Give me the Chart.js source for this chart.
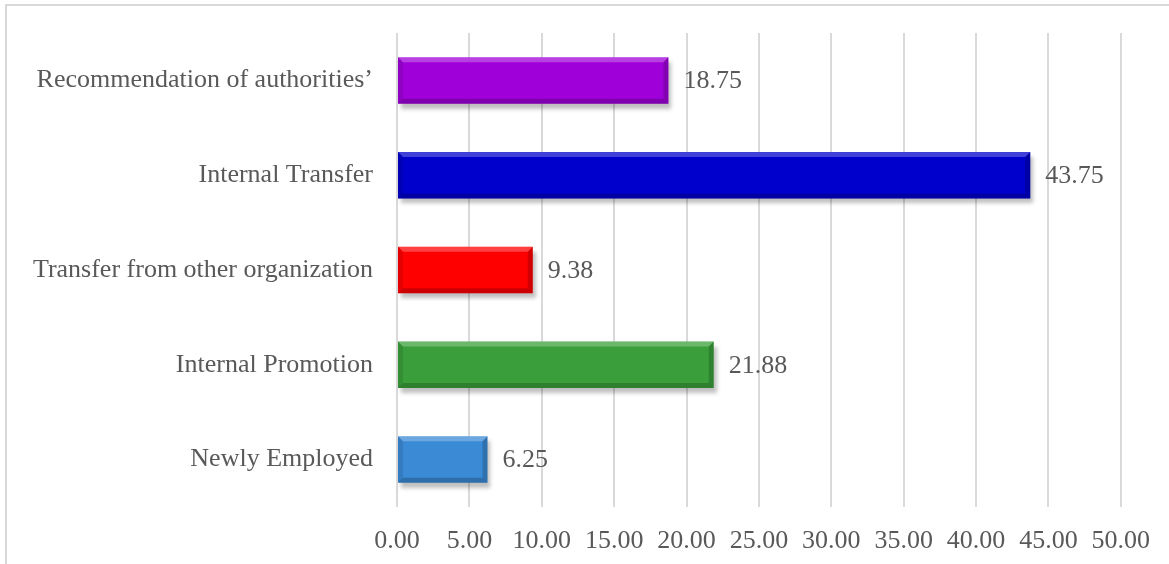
<!DOCTYPE html>
<html>
<head>
<meta charset="utf-8">
<script src="https://cdn.jsdelivr.net/npm/chart.js@4"></script>
<style>
  body { margin: 0; background: #fff; }
  #wrap { position: relative; width: 1169px; height: 564px; }
</style>
</head>
<body>
<div id="wrap"><canvas id="sourceChart"></canvas></div>
<script>
const categories = [
  "Recommendation of authorities\u2019",
  "Internal Transfer",
  "Transfer from other organization",
  "Internal Promotion",
  "Newly Employed"
];
const percentages = [18.75, 43.75, 9.38, 21.88, 6.25];
const barColors = ["#9F00D9", "#0000CC", "#FF0000", "#3A9F3A", "#3A8AD6"];
const xTicks = [0, 5, 10, 15, 20, 25, 30, 35, 40, 45, 50];

const FONT = "'Liberation Serif', 'Times New Roman', serif";
const TEXT = "#595959";

// light grey frame along top and left (chart border, cropped)
const framePlugin = {
  id: "frame",
  beforeDraw(chart) {
    const c = chart.ctx;
    c.save();
    c.strokeStyle = "#d9d9d9";
    c.lineWidth = 2;
    c.beginPath();
    c.moveTo(6, chart.height);
    c.lineTo(6, 5);
    c.lineTo(chart.width, 5);
    c.stroke();
    c.restore();
  }
};

// soft drop shadow under bars
const shadowPlugin = {
  id: "barShadow",
  beforeDatasetDraw(chart) {
    const c = chart.ctx;
    c.save();
    c.shadowColor = "rgba(0,0,0,0.25)";
    c.shadowBlur = 4;
    c.shadowOffsetX = 3;
    c.shadowOffsetY = 5;
  },
  afterDatasetDraw(chart) {
    chart.ctx.restore();
  }
};

// bevel look + value labels
const bevelPlugin = {
  id: "bevel",
  afterDatasetsDraw(chart) {
    const c = chart.ctx;
    const meta = chart.getDatasetMeta(0);
    meta.data.forEach((bar, i) => {
      const left = bar.base, right = bar.x;
      const top = bar.y - bar.height / 2, bottom = bar.y + bar.height / 2;
      const e = 5;
      c.save();
      c.fillStyle = "rgba(255,255,255,0.25)";
      c.beginPath();
      c.moveTo(left, top); c.lineTo(right, top); c.lineTo(right - e, top + e); c.lineTo(left + e, top + e);
      c.closePath(); c.fill();
      c.fillStyle = "rgba(0,0,0,0.2)";
      c.beginPath();
      c.moveTo(left, bottom); c.lineTo(right, bottom); c.lineTo(right - e, bottom - e); c.lineTo(left + e, bottom - e);
      c.closePath(); c.fill();
      c.fillStyle = "rgba(0,0,0,0.1)";
      c.beginPath();
      c.moveTo(left, top); c.lineTo(left + e, top + e); c.lineTo(left + e, bottom - e); c.lineTo(left, bottom);
      c.closePath(); c.fill();
      c.fillStyle = "rgba(0,0,0,0.18)";
      c.beginPath();
      c.moveTo(right, top); c.lineTo(right - e, top + e); c.lineTo(right - e, bottom - e); c.lineTo(right, bottom);
      c.closePath(); c.fill();
      // value label
      c.fillStyle = TEXT;
      c.font = "26px " + FONT;
      c.textAlign = "left";
      c.textBaseline = "middle";
      c.fillText(percentages[i].toFixed(2), right + 15, bar.y + 1);
      c.restore();
    });
  }
};

new Chart(document.getElementById("sourceChart"), {
  type: "bar",
  data: {
    labels: categories,
    datasets: [{
      data: percentages,
      backgroundColor: barColors,
      borderWidth: 0,
      categoryPercentage: 1,
      barPercentage: 0.49
    }]
  },
  options: {
    indexAxis: "y",
    responsive: true,
    maintainAspectRatio: false,
    animation: false,
    layout: { padding: { top: 33, right: 47, left: 0, bottom: 0 } },
    plugins: {
      legend: { display: false },
      tooltip: { enabled: false }
    },
    scales: {
      x: {
        min: 0,
        max: 50,
        afterBuildTicks(scale) { scale.ticks = xTicks.map(v => ({ value: v })); },
        afterFit(scale) { scale.height = 57; },
        grid: { color: "#d9d9d9", lineWidth: 2, drawTicks: false },
        border: { display: false },
        ticks: {
          padding: 19,
          color: TEXT,
          font: { family: FONT, size: 26 },
          callback: v => Number(v).toFixed(2)
        }
      },
      y: {
        afterFit(scale) {
          scale.width = 397;
          scale.paddingTop = 0;
          scale.paddingBottom = 0;
        },
        grid: { display: false, drawTicks: false },
        border: { display: false },
        ticks: {
          padding: 24,
          color: TEXT,
          font: { family: FONT, size: 26 }
        }
      }
    }
  },
  plugins: [framePlugin, shadowPlugin, bevelPlugin]
});
</script>
</body>
</html>
